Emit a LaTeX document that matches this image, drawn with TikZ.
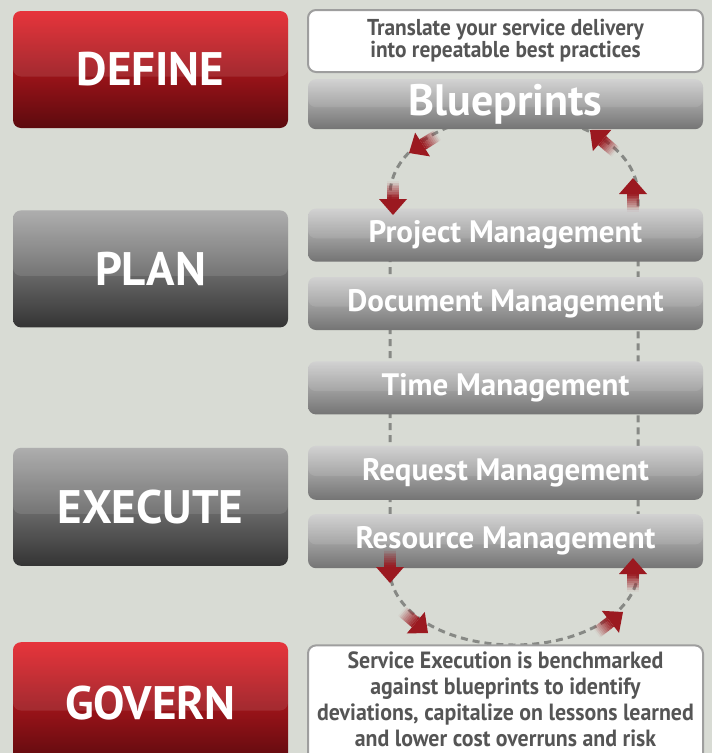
\documentclass[tikz,border=0pt]{standalone}
\usepackage{fontspec}
\setmainfont{PT Sans}
\newfontfamily\narrowfont[FakeStretch=0.93]{PT Sans}
\usetikzlibrary{positioning,calc}

\definecolor{bgcol}{RGB}{216,219,212}
\definecolor{redtop}{RGB}{228,30,38}
\definecolor{redbot}{RGB}{92,10,14}
\definecolor{graytop}{RGB}{165,165,165}
\definecolor{graybot}{RGB}{52,52,52}
\definecolor{bartop}{RGB}{205,205,205}
\definecolor{barbot}{RGB}{116,116,116}
\definecolor{textgray}{RGB}{85,85,85}
\definecolor{loopgray}{RGB}{135,137,133}
\definecolor{arrowred}{RGB}{155,25,32}

% red block arrow with a fading tail, tip at (#1,#2), pointing to angle #3
\newcommand{\flowarrow}[3]{%
  \begin{scope}[shift={(#1,#2)}, rotate=#3]
    \foreach \s [evaluate=\s as \op using 0.04+0.1*\s] in {0,...,9}
      \fill[arrowred, opacity=\op] (-34+1.8*\s,-6) rectangle (-32.2+1.8*\s,6);
    \fill[arrowred] (-16,-6) -- (-16,-14) -- (0,0) -- (-16,14) -- (-16,6) -- cycle;
  \end{scope}}

\begin{document}
\begin{tikzpicture}
    [x=1pt, y=-1pt,
    % STYLES
    % glossy highlight on the upper part of a box
    gloss/.style={path picture={\fill[white, opacity=.10, rounded corners=8pt]
      (path picture bounding box.north west) rectangle
      ($(path picture bounding box.north east)!0.56!(path picture bounding box.south east)$);}},
    % the stage style is used for the four phases on the left
    stage/.style={rectangle, rounded corners=8pt, minimum width=275pt, inner sep=0pt,
      text=white, font=\bfseries\fontsize{47}{47}\selectfont, gloss},
    redstage/.style={stage, top color=redtop, bottom color=redbot},
    graystage/.style={stage, top color=graytop, bottom color=graybot},
    % the bar style is used for the management modules on the right
    bar/.style={rectangle, rounded corners=8pt, minimum width=395pt, inner sep=0pt,
      top color=bartop, bottom color=barbot, text=white,
      font=\bfseries\fontsize{31}{31}\selectfont, gloss},
    % the note style is used for the two white text boxes
    note/.style={rectangle, rounded corners=8pt, minimum width=395pt, draw=black!38,
      line width=2pt, fill=white, text=textgray, align=center, inner sep=0pt},
    loopline/.style={draw=loopgray, line width=3pt, dash pattern=on 7pt off 5pt}]

    \useasboundingbox[fill=bgcol] (0,0) rectangle (712,753);

    % Draw the dashed loop first, the bars cover it
    \draw[loopline] (390,195) -- (390,570) arc (180:0:124 and 75)
      -- (638,195) arc (0:-180:124 and 80);

    % Draw phases
    \node [redstage, minimum height=117pt] (define) at (150.5,69.5) {DEFINE};
    \node [graystage, minimum height=117pt, below=82pt of define] (plan) {PLAN};
    \node [graystage, minimum height=118pt, below=120pt of plan] (execute) {EXECUTE};
    \node [redstage, minimum height=122pt, below=76pt of execute] (govern) {GOVERN};

    % Draw modules
    \node [note, minimum height=62pt,
      font=\narrowfont\bfseries\fontsize{23}{20.5}\selectfont] (intro) at (505.5,41)
      {Translate your service delivery\\into repeatable best practices};
    \node [bar, minimum height=50pt, below=6pt of intro,
      font=\bfseries\fontsize{44}{44}\selectfont] (blueprints) {Blueprints};
    \node [bar, minimum height=53pt, below=79pt of blueprints] (projmgmt) {Project Management};
    \node [bar, minimum height=53pt, below=15pt of projmgmt] (docmgmt) {Document Management};
    \node [bar, minimum height=53pt, below=31pt of docmgmt] (timemgmt) {Time Management};
    \node [bar, minimum height=54pt, below=31pt of timemgmt] (reqmgmt) {Request Management};
    \node [bar, minimum height=54pt, below=14pt of reqmgmt] (resmgmt) {Resource Management};
    \node [note, minimum height=124pt, below=76pt of resmgmt,
      font=\narrowfont\bfseries\fontsize{23.5}{26.2}\selectfont] (outro)
      {\parbox[t][112pt][t]{394pt}{\centering Service Execution is benchmarked\\
      against blueprints to identify\\deviations, capitalize on lessons learned\\
      and lower cost overruns and risk}};

    % Draw arrows along the loop
    \flowarrow{409}{153}{212}
    \flowarrow{393}{215}{270}
    \flowarrow{590}{130}{139}
    \flowarrow{633}{178}{90}
    \flowarrow{390}{583}{270}
    \flowarrow{428}{633}{-40}
    \flowarrow{623}{612}{38}
    \flowarrow{633}{558}{90}
\end{tikzpicture}
\end{document}
